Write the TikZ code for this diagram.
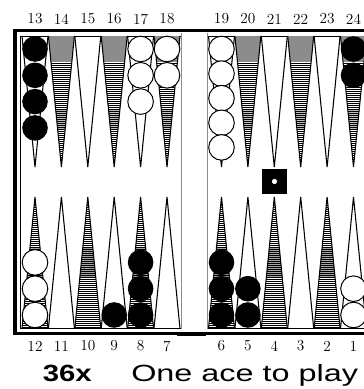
\documentclass[tikz,border=0pt]{standalone}
\usepackage{graphicx}
\usepackage{fontspec}
\newfontfamily\capfont{Liberation Sans}
\usetikzlibrary{positioning}

\begin{document}
\begin{tikzpicture}[
  x=0.75pt, y=-0.75pt,
  lbl/.style={font=\fontsize{11.5}{13}\selectfont, inner sep=0pt},
  rim/.style={line width=2.6pt, black},
  inner/.style={line width=0.75pt, black},
  barline/.style={line width=0.5pt, black!45},
  pointline/.style={line width=0.8pt, black, line join=miter},
  hatch/.style={line width=0.4pt, black},
  wchk/.style={draw=black, line width=0.75pt, fill=white},
  bchk/.style={fill=black}
]
\clip (0,0) rectangle (364,389);

% frame
\draw[rim] (13.3,30.5) -- (380,30.5);
\draw[rim] (15,29.2) -- (15,334.8);
\draw[rim] (13.3,333.5) -- (380,333.5);
\fill (177,332) rectangle (206,336);
\draw[inner] (20,36) -- (20,328.5);
\draw[inner] (20,36) -- (181,36) (207,36) -- (380,36);
\draw[inner] (20,328.5) -- (181,328.5) (207,328.5) -- (380,328.5);
\draw[barline] (181,32.5) -- (181,329) (207,32.5) -- (207,329);

% points
\foreach \c in {0,...,11}{
  \pgfmathsetmacro\xc{ifthenelse(\c<6,35+26.4*\c,221.5+26.4*(\c-6))}
  \pgfmathtruncatemacro\odd{mod(\c,2)}
  \ifnum\odd=1
    \begin{scope}
      \clip (\xc-13,36) -- (\xc+13,36) -- (\xc,167) -- cycle;
      \fill[black!45] (\xc-13,36) rectangle (\xc+13,62);
      \fill[black!25] (\xc-13,110) rectangle (\xc+13,130);
      \foreach \yy in {63,65,...,167} \draw[hatch] (\xc-13,\yy) -- (\xc+13,\yy);
    \end{scope}
  \else
    \begin{scope}
      \clip (\xc-13,328.5) -- (\xc+13,328.5) -- (\xc,197) -- cycle;
      \fill[black!35] (\xc-13,248) rectangle (\xc+13,277);
      \foreach \yy in {199,201,...,328} \draw[hatch] (\xc-13,\yy) -- (\xc+13,\yy);
    \end{scope}
  \fi
  \draw[pointline] (\xc-13,36) -- (\xc,167) -- (\xc+13,36);
  \draw[pointline] (\xc-13,328.5) -- (\xc,197) -- (\xc+13,328.5);
  \pgfmathtruncatemacro\tn{13+\c}
  \pgfmathtruncatemacro\bn{12-\c}
  \node[lbl] (top\tn) at (\xc,19) {\tn};
  \node[lbl] (bot\bn) at (\xc,346) {\bn};
}

% checkers: column/count/style/spacing
\foreach \c/\n/\s/\d in {0/4/bchk/26.3, 4/3/wchk/26.3, 5/2/wchk/26.3,
                         6/5/wchk/24.6, 11/2/bchk/26.3}{
  \pgfmathsetmacro\xc{ifthenelse(\c<6,35+26.4*\c,221.5+26.4*(\c-6))}
  \foreach \k in {1,...,\n} \path[\s] (\xc,49+\d*\k-\d) circle (12.8);
}
\foreach \c/\n/\s in {0/3/wchk, 3/1/bchk, 4/3/bchk, 6/3/bchk, 7/2/bchk, 11/2/wchk}{
  \pgfmathsetmacro\xc{ifthenelse(\c<6,35+26.4*\c,221.5+26.4*(\c-6))}
  \foreach \k in {1,...,\n} \path[\s] (\xc,315-26.3*\k+26.3) circle (12.8);
}

% die
\fill (262,169) rectangle (287,194);
\fill[white] (274.5,181.5) circle (2.6);

% caption
\node[anchor=base west, inner sep=0pt] (cube) at (42.5,381.5)
  {\capfont\bfseries\fontsize{17.6}{20}\selectfont\scalebox{1.25}[1]{36x}};
\node[anchor=base west, inner sep=0pt] (task) at (131,381.5)
  {\capfont\fontsize{17.6}{20}\selectfont\scalebox{1.38}[1]{One ace to play}};
\end{tikzpicture}
\end{document}
